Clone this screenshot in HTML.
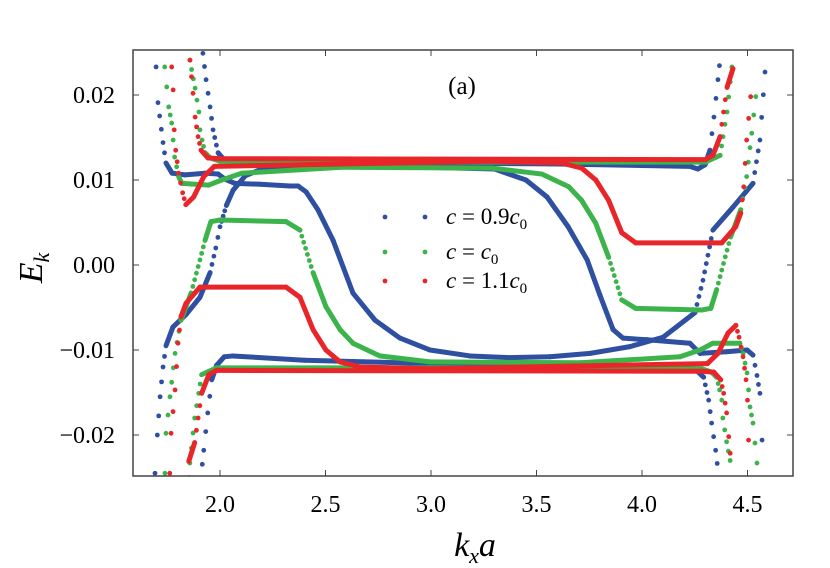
<!DOCTYPE html>
<html><head><meta charset="utf-8"><style>
html,body{margin:0;padding:0;background:#fff;}
svg{display:block;}
text{font-family:"Liberation Serif","DejaVu Serif",serif;}
</style></head><body>
<svg id="chart" width="830" height="568" viewBox="0 0 830 568">
<defs><clipPath id="pc"><rect x="133" y="50" width="660" height="426"/></clipPath></defs>
<g id="marks" clip-path="url(#pc)"></g>
<rect x="133" y="50" width="660" height="426" fill="none" stroke="#444" stroke-width="1.5"/>
<g id="axes"></g>
<text x="462" y="94" font-size="25" text-anchor="middle">(a)</text>
<g>
<circle cx="385" cy="217" r="2.4" fill="#2f4fa0"/>
<circle cx="425" cy="217" r="2.4" fill="#2f4fa0"/>
<text x="446" y="224" font-size="23"><tspan font-style="italic">c</tspan> = 0.9<tspan font-style="italic">c</tspan><tspan font-size="15" dy="5">0</tspan></text>
<circle cx="385" cy="252" r="2.4" fill="#3cb44b"/>
<circle cx="425" cy="252" r="2.4" fill="#3cb44b"/>
<text x="446" y="259" font-size="23"><tspan font-style="italic">c</tspan> = <tspan font-style="italic">c</tspan><tspan font-size="15" dy="5">0</tspan></text>
<circle cx="385" cy="281" r="2.4" fill="#e8262a"/>
<circle cx="425" cy="281" r="2.4" fill="#e8262a"/>
<text x="446" y="288" font-size="23"><tspan font-style="italic">c</tspan> = 1.1<tspan font-style="italic">c</tspan><tspan font-size="15" dy="5">0</tspan></text>
</g>
<text x="475" y="556" font-size="34" text-anchor="middle" font-style="italic">k<tspan font-size="22" dy="7">x</tspan><tspan dy="-7">a</tspan></text>
<text transform="translate(42,268) rotate(-90)" font-size="34" text-anchor="middle" font-style="italic">E<tspan font-size="22" dy="7">k</tspan></text>
</svg>
<script>
const xTicks = [2.0, 2.5, 3.0, 3.5, 4.0, 4.5];
const xTickLabels = ["2.0", "2.5", "3.0", "3.5", "4.0", "4.5"];
const yTicks = [0.02, 0.01, 0.0, -0.01, -0.02];
const yTickLabels = ["0.02", "0.01", "0.00", "\u22120.01", "\u22120.02"];
const seriesNames = ["c=0.9c0", "c=c0", "c=1.1c0"];
const blue1 = [[1.697,.0233],[1.706,.0191],[1.730,.0144],[1.744,.0120],[1.773,.0108],[1.834,.0106],[1.929,.0108],[1.991,.0107],[2.024,.0101],[2.071,.0096],[2.190,.0095],[2.332,.0093],[2.370,.0093],[2.408,.0086],[2.464,.0065],[2.536,.0029],[2.630,-.0033],[2.735,-.0065],[2.853,-.0086],[2.995,-.0100],[3.185,-.0107],[3.374,-.0109],[3.564,-.0108],[3.754,-.0104],[3.943,-.0096],[4.100,-.0085],[4.251,-.0056],[4.289,-.0018],[4.336,.0041],[4.431,.0068],[4.526,.0096],[4.559,.0147],[4.583,.0227],[4.587,.0255]];
const blue2 = [[1.692,-.0245],[1.703,-.0200],[1.716,-.0155],[1.73,-.0120],[1.744,-.0095],[1.777,-.0073],[1.84,-.0058],[1.905,-.0038],[1.953,-.0009],[1.98,.0020],[2.0,.0045],[2.03,.0070],[2.062,.0088],[2.12,.0105],[2.218,.0115],[2.455,.0119],[2.8,.0116],[3.3,.0113],[3.45,.0100],[3.55,.0080],[3.65,.0045],[3.74,.0006],[3.8,-.0035],[3.863,-.0076],[3.91,-.0086],[4.024,-.0088],[4.227,-.0092],[4.275,-.0104],[4.4,-.0102],[4.498,-.0100],[4.526,-.0106],[4.545,-.0130],[4.559,-.0151],[4.569,-.0206],[4.575,-.0245]];
const blue3 = [[1.919,.0249],[1.934,.0218],[1.953,.0186],[1.967,.0159],[1.991,.0132],[2.019,.0124],[2.19,.0121],[2.853,.0120],[3.564,.0119],[4.227,.0116],[4.265,.0113],[4.299,.0118],[4.322,.0135],[4.341,.0174],[4.36,.0218],[4.374,.0251]];
const blue4 = [[1.909,-.0251],[1.923,-.0218],[1.942,-.0174],[1.961,-.0135],[1.984,-.0118],[2.02,-.0108],[2.06,-.0107],[2.4,-.0112],[3.0,-.0116],[3.6,-.0119],[4.1,-.0121],[4.25,-.0122],[4.292,-.0132],[4.316,-.0159],[4.33,-.0186],[4.349,-.0218],[4.364,-.0249]];
const green1 = [[1.738,.0233],[1.757,.0186],[1.771,.0167],[1.785,.0127],[1.804,.0104],[1.819,.0096],[1.947,.0094],[2.008,.0100],[2.103,.0108],[2.577,.0115],[3.288,.0114],[3.525,.0107],[3.653,.0092],[3.714,.0076],[3.781,.0049],[3.842,.0009],[3.904,-.0041],[3.97,-.0051],[4.283,-.0053],[4.326,-.0051],[4.354,-.0029],[4.378,-.0006],[4.42,.0033],[4.468,.0065],[4.496,.0104],[4.52,.0155],[4.539,.0198],[4.544,.0245]];
const green2 = [[1.739,-.0245],[1.744,-.0198],[1.763,-.0155],[1.787,-.0104],[1.815,-.0065],[1.863,-.0033],[1.905,.0006],[1.929,.0029],[1.957,.0051],[2.0,.0053],[2.313,.0051],[2.379,.0041],[2.441,-.0009],[2.502,-.0049],[2.569,-.0076],[2.63,-.0092],[2.758,-.0107],[2.995,-.0114],[3.706,-.0115],[4.18,-.0108],[4.275,-.0100],[4.336,-.0092],[4.464,-.0092],[4.479,-.0104],[4.498,-.0127],[4.512,-.0167],[4.526,-.0186],[4.545,-.0233],[4.548,-.0255]];
const green3 = [[1.857,.0241],[1.882,.0208],[1.9,.0180],[1.905,.0159],[1.915,.0147],[1.929,.0132],[1.953,.0126],[2.0,.0122],[3.0,.0121],[4.3,.0121],[4.37,.0129],[4.384,.0151],[4.403,.0180],[4.426,.0233],[4.43,.0250]];
const green4 = [[1.853,-.0250],[1.857,-.0233],[1.88,-.0180],[1.899,-.0151],[1.913,-.0129],[1.983,-.0121],[3.28,-.0121],[4.283,-.0122],[4.33,-.0126],[4.354,-.0132],[4.368,-.0147],[4.378,-.0159],[4.383,-.0180],[4.401,-.0208],[4.426,-.0241]];
const red1 = [[1.771,.0233],[1.778,.0206],[1.783,.0159],[1.79,.0135],[1.804,.0108],[1.823,.0085],[1.838,.0071],[1.875,.0080],[1.923,.0104],[1.973,.0116],[3.283,.0122],[3.619,.0120],[3.714,.0114],[3.781,.0100],[3.842,.0076],[3.904,.0038],[3.97,.0026],[4.34,.0026],[4.378,.0026],[4.444,.0045],[4.468,.0061],[4.482,.0092],[4.496,.0147],[4.515,.0198],[4.52,.0245]];
const red2 = [[1.762,-.0245],[1.768,-.0198],[1.787,-.0147],[1.801,-.0092],[1.815,-.0061],[1.839,-.0045],[1.905,-.0026],[1.943,-.0026],[2.313,-.0026],[2.379,-.0038],[2.441,-.0076],[2.502,-.0100],[2.569,-.0114],[2.664,-.0120],[3.0,-.0122],[4.31,-.0116],[4.36,-.0104],[4.408,-.0080],[4.445,-.0071],[4.46,-.0085],[4.479,-.0108],[4.493,-.0135],[4.50,-.0159],[4.505,-.0206],[4.512,-.0233]];
const red3 = [[1.858,.0241],[1.872,.0202],[1.882,.0174],[1.896,.0151],[1.91,.0135],[1.943,.0126],[2.0,.0125],[4.3,.0124],[4.336,.0129],[4.37,.0151],[4.403,.0209],[4.431,.0231],[4.434,.0252]];
const red4 = [[1.852,-.0231],[1.88,-.0209],[1.913,-.0151],[1.947,-.0129],[1.983,-.0124],[4.283,-.0125],[4.34,-.0126],[4.373,-.0135],[4.387,-.0151],[4.401,-.0174],[4.411,-.0202],[4.425,-.0241]];

const X0 = 220, XS = 211, Y0 = 265, YS = 8500;
function xs(v){ return X0 + (v - 2) * XS; }
function ys(v){ return Y0 - v * YS; }
const NS = "http://www.w3.org/2000/svg";
const marks = document.getElementById('marks');
const axes = document.getElementById('axes');
const bands = [
 {name:'band-0.9c0', color:'#2f4fa0', curves:[blue1, blue2, blue3, blue4]},
 {name:'band-c0', color:'#3cb44b', curves:[green1, green2, green3, green4]},
 {name:'band-1.1c0', color:'#e8262a', curves:[red1, red2, red3, red4]}
];
const STEP = 0.0085;
bands.forEach(function(b){
  b.curves.forEach(function(pts, ci){
    const g = document.createElementNS(NS, 'g');
    
    
    g.setAttribute('fill', b.color);
    for (let i = 0; i < pts.length - 1; i++) {
      const a = pts[i], c = pts[i + 1];
      const x1 = xs(a[0]), y1 = ys(a[1]), x2 = xs(c[0]), y2 = ys(c[1]);
      const slope = Math.abs(y2 - y1) / Math.max(0.01, Math.abs(x2 - x1));
      if (slope < 3.2) {
        const l = document.createElementNS(NS, 'line');
        l.setAttribute('x1', x1.toFixed(2)); l.setAttribute('y1', y1.toFixed(2));
        l.setAttribute('x2', x2.toFixed(2)); l.setAttribute('y2', y2.toFixed(2));
        l.setAttribute('stroke', b.color); l.setAttribute('stroke-width', '5');
        l.setAttribute('stroke-linecap', 'round');
        g.appendChild(l);
      } else {
        const dx = c[0] - a[0];
        const n = Math.max(1, Math.round(dx / STEP));
        for (let k = 0; k < n; k++) {
          const t = k / n;
          const cc = document.createElementNS(NS, 'circle');
          cc.setAttribute('cx', xs(a[0] + dx * t).toFixed(2));
          cc.setAttribute('cy', ys(a[1] + (c[1] - a[1]) * t).toFixed(2));
          cc.setAttribute('r', '2.4');
          g.appendChild(cc);
        }
      }
    }
    marks.appendChild(g);
  });
});
xTicks.forEach(function(v, i){
  const x = xs(v);
  ['b','t'].forEach(function(s){
    const l = document.createElementNS(NS, 'line');
    l.setAttribute('x1', x); l.setAttribute('x2', x);
    l.setAttribute('y1', s === 'b' ? 476 : 50); l.setAttribute('y2', s === 'b' ? 470 : 56);
    l.setAttribute('stroke', '#444'); l.setAttribute('stroke-width', '1');
    
    
    axes.appendChild(l);
  });
  const t = document.createElementNS(NS, 'text');
  t.setAttribute('x', x); t.setAttribute('y', 512);
  t.setAttribute('font-size', '24'); t.setAttribute('text-anchor', 'middle');
  
  
  t.textContent = xTickLabels[i];
  axes.appendChild(t);
});
yTicks.forEach(function(v, i){
  const y = ys(v);
  ['l','r'].forEach(function(s){
    const l = document.createElementNS(NS, 'line');
    l.setAttribute('y1', y); l.setAttribute('y2', y);
    l.setAttribute('x1', s === 'l' ? 133 : 793); l.setAttribute('x2', s === 'l' ? 139 : 787);
    l.setAttribute('stroke', '#444'); l.setAttribute('stroke-width', '1');
    
    
    axes.appendChild(l);
  });
  const t = document.createElementNS(NS, 'text');
  t.setAttribute('x', 115); t.setAttribute('y', y + 8);
  t.setAttribute('font-size', '24'); t.setAttribute('text-anchor', 'end');
  
  
  t.textContent = yTickLabels[i];
  axes.appendChild(t);
});
</script>
</body></html>
